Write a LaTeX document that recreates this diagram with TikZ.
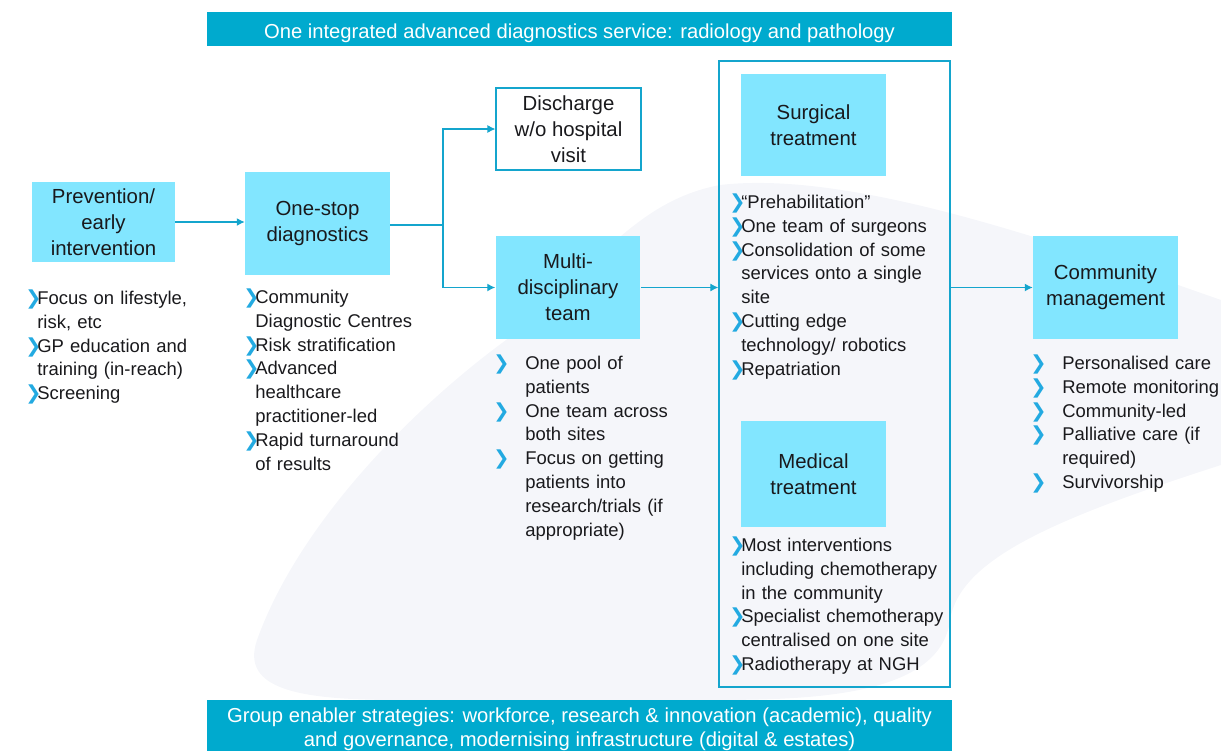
\documentclass[tikz,border=0pt]{standalone}
\usepackage{fontspec}
\setmainfont{Liberation Sans}
\newfontfamily\symfont{DejaVu Sans}
\usepackage{tikz}
\usetikzlibrary{
    arrows.meta,
    calc,
    positioning,
    backgrounds
}
\definecolor{ink}{RGB}{25,25,28}
\definecolor{stagefill}{RGB}{130,230,255}
\definecolor{bannerblue}{RGB}{0,170,206}
\definecolor{linkblue}{RGB}{20,165,205}
\definecolor{bulletblue}{RGB}{35,170,225}
\definecolor{swoosh}{RGB}{245,246,250}

\newlength{\bulletgap}
\setlength{\bulletgap}{0.24cm}
\newcommand{\bulletmark}{{\symfont\color{bulletblue}\fontsize{11}{11}\selectfont ❯}}
\newcommand{\bitem}{\par\noindent\hangindent=\bulletgap\hangafter=1\makebox[\bulletgap][l]{\bulletmark}\ignorespaces}

\tikzset{
    line cap=round,
    line join=round,
    stage/.style={
        rectangle,
        fill=stagefill,
        text=ink,
        minimum width=2.9cm,
        minimum height=2.06cm,
        inner sep=0pt,
        align=center,
        font=\fontsize{11.6}{14.7}\selectfont
    },
    exitbox/.style={
        stage,
        fill=white,
        draw=linkblue,
        line width=0.7pt
    },
    pathway/.style={
        rectangle,
        draw=linkblue,
        line width=0.8pt,
        minimum width=4.62cm,
        minimum height=12.52cm
    },
    banner/.style={
        rectangle,
        fill=bannerblue,
        minimum width=14.9cm,
        inner sep=0pt
    },
    bannertext/.style={
        text=white,
        inner sep=0pt,
        align=center,
        font=\fontsize{11.5}{13.6}\selectfont
    },
    flow/.style={
        -{Latex[length=4.5pt,width=4.5pt]},
        draw=linkblue,
        line width=0.6pt
    },
    link/.style={
        draw=linkblue,
        line width=0.6pt
    },
    points/.style={
        anchor=north west,
        inner sep=0pt,
        text=ink,
        align=left,
        text width=5cm,
        font=\fontsize{10.5}{13.6}\selectfont
    }
}

\begin{document}
\begin{tikzpicture}[x=0.02cm, y=-0.02cm]
\useasboundingbox (0,0) rectangle (1221,751);

% Background swoosh
\fill[swoosh] (257,640) .. controls (300,520) and (420,400) .. (520,330)
    .. controls (600,260) and (640,200) .. (720,185)
    .. controls (850,170) and (1050,240) .. (1221,300) -- (1221,465)
    .. controls (1050,520) and (960,560) .. (950,620)
    .. controls (940,700) and (800,700) .. (700,700) -- (400,700)
    .. controls (300,700) and (240,690) .. cycle;

% Banners
\node[banner, minimum height=0.68cm] (service) at (579.5,29) {};
\node[bannertext] (servicetext) at (579.5,33.5) {One integrated advanced diagnostics service: radiology and pathology};
\node[banner, minimum height=1.02cm] (enablers) at (579.5,725.5) {};
\node[bannertext] (enablerstext) at (579.5,729) {Group enabler strategies: workforce, research \& innovation (academic), quality\\and governance, modernising infrastructure (digital \& estates)};

% Pathway stages
\node[stage, minimum width=2.86cm, minimum height=1.6cm] (prevent) at (103.5,222) {Prevention/\\early\\intervention};
\node[stage] (onestop) at (317.5,223.5) {One-stop\\diagnostics};
\node[exitbox, minimum height=1.64cm] (discharge) at (568.5,129) {Discharge\\w/o hospital\\visit};
\node[stage] (mdt) at (568,287.5) {Multi-\\disciplinary\\team};
\node[pathway] (treat) at (834.5,374) {};
\node[stage] (surgical) at (813.5,125) {Surgical\\treatment};
\node[stage, minimum height=2.12cm] (medical) at (813.5,474) {Medical\\treatment};
\node[stage] (community) at (1105.5,287.5) {Community\\management};

% Connectors
\coordinate (fork) at (443,225);
\draw[flow] (prevent.east) -- (prevent.east -| onestop.west);
\draw[link] (onestop.east |- fork) -- (fork);
\draw[flow] (fork) |- (discharge.west);
\draw[flow] (fork) |- (mdt.west);
\draw[flow] (mdt.east) -- (mdt.east -| treat.west);
\draw[flow] (community.west -| treat.east) -- (community.west);

% Bullet lists
\node[points] (preventlist) at (25,280) {%
\bitem Focus on lifestyle,\newline risk, etc
\bitem GP education and\newline training (in-reach)
\bitem Screening\par};
\node[points] (onestoplist) at (243,279) {%
\bitem Community\newline Diagnostic Centres
\bitem Risk stratification
\bitem Advanced\newline healthcare\newline practitioner-led
\bitem Rapid turnaround\newline of results\par};
\setlength{\bulletgap}{0.64cm}
\node[points] (mdtlist) at (493,345) {%
\bitem One pool of\newline patients
\bitem One team across\newline both sites
\bitem Focus on getting\newline patients into\newline research/trials (if\newline appropriate)\par};
\node[points] (communitylist) at (1030,345) {%
\bitem Personalised care
\bitem Remote monitoring
\bitem Community-led
\bitem Palliative care (if\newline required)
\bitem Survivorship\par};
\setlength{\bulletgap}{0.24cm}
\node[points] (surgicallist) at (729,184) {%
\bitem “Prehabilitation”
\bitem One team of surgeons
\bitem Consolidation of some\newline services onto a single\newline site
\bitem Cutting edge\newline technology/ robotics
\bitem Repatriation\par};
\node[points] (medicallist) at (729,527) {%
\bitem Most interventions\newline including chemotherapy\newline in the community
\bitem Specialist chemotherapy\newline centralised on one site
\bitem Radiotherapy at NGH\par};

\end{tikzpicture}
\end{document}
